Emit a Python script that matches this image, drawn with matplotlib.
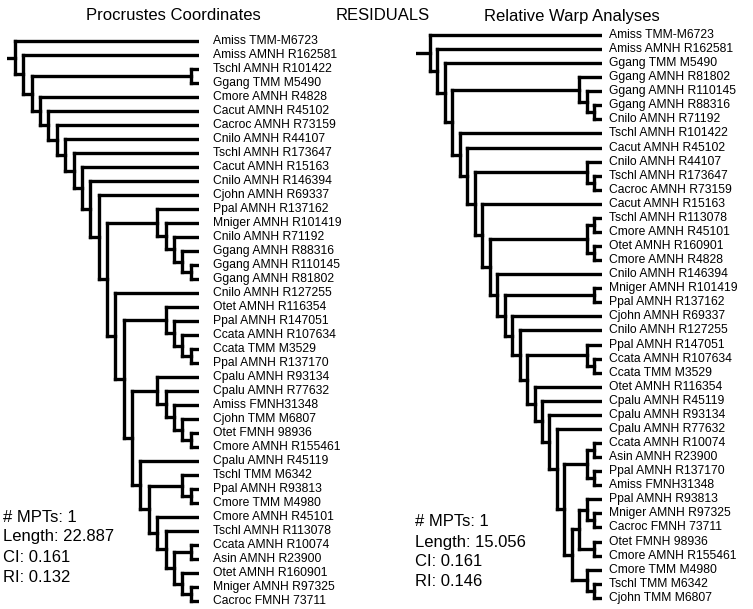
import re

import matplotlib
matplotlib.use("Agg")
import matplotlib.pyplot as plt
from matplotlib.collections import LineCollection

# topology of both strict-consensus trees (tips top to bottom)
PROCRUSTES_TREE = (
    "(Amiss TMM-M6723,(Amiss AMNH R162581,((Tschl AMNH R101422,Ggang TMM M5490),"
    "(Cmore AMNH R4828,(Cacut AMNH R45102,(Cacroc AMNH R73159,(Cnilo AMNH R44107,"
    "(Tschl AMNH R173647,(Cacut AMNH R15163,(Cnilo AMNH R146394,(Cjohn AMNH R69337,"
    "((Ppal AMNH R137162,(Mniger AMNH R101419,(Cnilo AMNH R71192,(Ggang AMNH R88316,"
    "(Ggang AMNH R110145,Ggang AMNH R81802))))),"
    "(Cnilo AMNH R127255,((Otet AMNH R116354,(Ppal AMNH R147051,(Ccata AMNH R107634,"
    "(Ccata TMM M3529,Ppal AMNH R137170)))),"
    "((Cpalu AMNH R93134,(Cpalu AMNH R77632,(Amiss FMNH31348,(Cjohn TMM M6807,"
    "(Otet FMNH 98936,Cmore AMNH R155461))))),"
    "(Cpalu AMNH R45119,((Tschl TMM M6342,(Ppal AMNH R93813,Cmore TMM M4980)),"
    "(Cmore AMNH R45101,(Tschl AMNH R113078,((Ccata AMNH R10074,Asin AMNH R23900),"
    "(Otet AMNH R160901,(Mniger AMNH R97325,Cacroc FMNH 73711))))))))))))))))))))))"
)
WARP_TREE = (
    "(Amiss TMM-M6723,(Amiss AMNH R162581,(Ggang TMM M5490,"
    "((Ggang AMNH R81802,(Ggang AMNH R110145,(Ggang AMNH R88316,Cnilo AMNH R71192))),"
    "(Tschl AMNH R101422,(Cacut AMNH R45102,"
    "((Cnilo AMNH R44107,(Tschl AMNH R173647,Cacroc AMNH R73159)),"
    "(Cacut AMNH R15163,"
    "(((Tschl AMNH R113078,Cmore AMNH R45101),(Otet AMNH R160901,Cmore AMNH R4828)),"
    "(Cnilo AMNH R146394,((Mniger AMNH R101419,Ppal AMNH R137162),"
    "(Cjohn AMNH R69337,(Cnilo AMNH R127255,"
    "((Ppal AMNH R147051,(Ccata AMNH R107634,Ccata TMM M3529)),"
    "(Otet AMNH R116354,(Cpalu AMNH R45119,(Cpalu AMNH R93134,(Cpalu AMNH R77632,"
    "(((Ccata AMNH R10074,Asin AMNH R23900),(Ppal AMNH R137170,Amiss FMNH31348)),"
    "(((Ppal AMNH R93813,(Mniger AMNH R97325,Cacroc FMNH 73711)),"
    "(Otet FMNH 98936,Cmore AMNH R155461)),"
    "(Cmore TMM M4980,(Tschl TMM M6342,Cjohn TMM M6807)))))))))))))))))))))))"
)

TITLES = ["Procrustes Coordinates", "RESIDUALS", "Relative Warp Analyses"]
STATS_LEFT = ["# MPTs: 1", "Length: 22.887", "CI: 0.161", "RI: 0.132"]
STATS_RIGHT = ["# MPTs: 1", "Length: 15.056", "CI: 0.161", "RI: 0.146"]

W, H = 753, 609
FONT = ["Liberation Sans", "DejaVu Sans"]


def parse(s):
    toks = [t.strip() for t in re.findall(r"\(|\)|,|[^(),]+", s) if t.strip()]
    pos = 0

    def node():
        nonlocal pos
        if toks[pos] == "(":
            pos += 1
            kids = [node()]
            while toks[pos] == ",":
                pos += 1
                kids.append(node())
            pos += 1  # ")"
            return kids
        name = toks[pos]
        pos += 1
        return name
    return node()


def layout(tree):
    """tips -> index; internal y = midpoint of first/last child; x = root height - node height"""
    tips, segs = [], []

    def walk(n):
        if isinstance(n, str):
            tips.append(n)
            return (len(tips) - 1, 0, [])
        res = [walk(c) for c in n]
        y = (res[0][0] + res[-1][0]) / 2
        h = max(r[1] for r in res) + 1
        return (y, h, res)

    root = walk(tree)
    top = root[1]

    def draw(n):
        y, h, kids = n
        x = top - h
        if kids:
            segs.append([(x, kids[0][0]), (x, kids[-1][0])])
            for k in kids:
                segs.append([(x, k[0]), (top - k[1], k[0])])
                draw(k)
    draw(root)
    return tips, segs, root[0], top


def add_axes_px(fig, x0, x1, y0, y1):
    return fig.add_axes([x0 / W, 1 - y1 / H, (x1 - x0) / W, (y1 - y0) / H])


def draw_tree(fig, newick, x_root, x_tip, stub, y_first, dy, label_gap):
    tips, segs, root_y, top = layout(parse(newick))
    step = (x_tip - x_root) / top
    lo = -stub / step
    ax = add_axes_px(fig, x_root - stub, x_tip, y_first - dy / 2,
                     y_first + dy * (len(tips) - 0.5))
    ax.set_xlim(lo, top)
    ax.set_ylim(len(tips) - 0.5, -0.5)
    ax.axis("off")
    segs.append([(lo, root_y), (0, root_y)])
    ax.add_collection(LineCollection(segs, colors="black", linewidths=2.4,
                                     capstyle="projecting", joinstyle="miter"))
    for i, name in enumerate(tips):
        ax.annotate(name, (top, i), xytext=(label_gap * 0.72, 0), textcoords="offset points",
                    va="center", ha="left", fontsize=8.7, family=FONT,
                    annotation_clip=False)
    return ax


fig = plt.figure(figsize=(W / 100, H / 100), dpi=100)
fig.patch.set_facecolor("white")

draw_tree(fig, PROCRUSTES_TREE, x_root=15, x_tip=199, stub=8.3, y_first=41, dy=14.0,
          label_gap=13.5)
draw_tree(fig, WARP_TREE, x_root=430, x_tip=601.7, stub=14, y_first=35, dy=14.07,
          label_gap=7.5)

for txt, xc in zip(TITLES, [173, 383, 572]):
    fig.text(xc / W, 1 - 16 / H, txt, ha="center", va="center", fontsize=12, family=FONT)

for lines, x0, y0 in [(STATS_LEFT, 3, 517), (STATS_RIGHT, 415, 522)]:
    for k, s in enumerate(lines):
        fig.text(x0 / W, 1 - (y0 + 20 * k) / H, s, ha="left", va="center",
                 fontsize=12, family=FONT)

fig.savefig("out.png", dpi=100)
